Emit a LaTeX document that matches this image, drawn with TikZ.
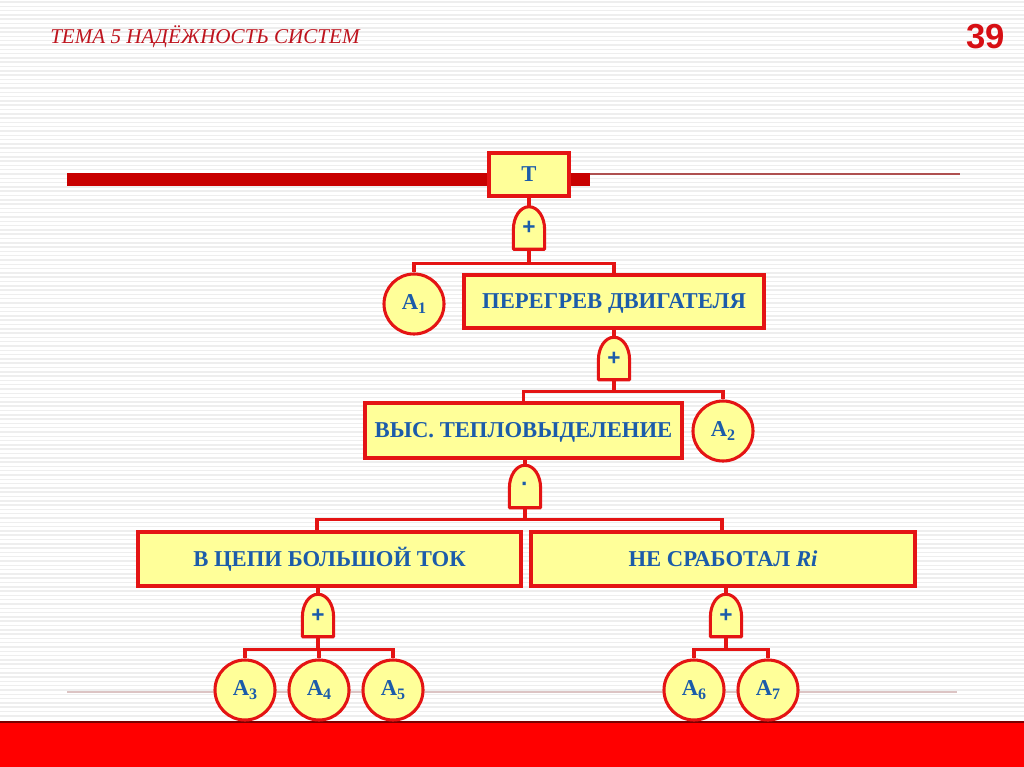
\documentclass[tikz,border=0pt]{standalone}
\usepackage{fontspec}
\setmainfont{Liberation Serif}
\newfontfamily\sansf{Liberation Sans}
\usetikzlibrary{calc}
\definecolor{yel}{RGB}{255,255,153}
\definecolor{bred}{RGB}{228,20,20}
\definecolor{tblue}{RGB}{28,92,170}
\definecolor{titred}{RGB}{190,20,30}
\definecolor{numred}{RGB}{215,15,20}
\definecolor{barred}{RGB}{200,0,0}
\definecolor{stripe}{RGB}{238,238,238}
\definecolor{thinred}{RGB}{175,80,80}
\definecolor{pinkgray}{RGB}{220,196,196}
\definecolor{bandred}{RGB}{255,0,0}
\definecolor{banddark}{RGB}{120,0,0}
\pgfdeclarelayer{bg}\pgfdeclarelayer{gl}\pgfsetlayers{bg,gl,main}
\newcommand\gatedraw[1]{\begin{pgfonlayer}{gl}\draw[gateline] (#1.north) .. controls ++(9,0) and ++(0,-12) .. ($(#1.south east)+(0,-20)$) -- (#1.south east) -- (#1.south west) -- ($(#1.south west)+(0,-20)$) .. controls ++(0,-12) and ++(-9,0) .. (#1.north) -- cycle;\end{pgfonlayer}}
\newcommand\subidx[1]{\raisebox{-3.5pt}{\fontsize{12}{12}\selectfont #1}}
\begin{document}
\begin{tikzpicture}[x=0.75pt,y=-0.75pt,
 box/.style={draw=bred,line width=2.3pt,fill=yel,text=tblue,font=\fontsize{17}{20}\selectfont\bfseries,inner sep=0pt,text depth=0pt,text height=11.2pt},
 ev/.style={circle,draw=bred,line width=2.3pt,fill=yel,text=tblue,font=\fontsize{17}{20}\selectfont\bfseries,minimum size=45pt,inner sep=0pt},
 gate/.style={minimum width=23pt,minimum height=31.5pt,inner sep=0pt,text=tblue,font=\sansf\bfseries\fontsize{17}{17}\selectfont},
 gateline/.style={draw=bred,line width=2.3pt,fill=yel,line join=round},
 conn/.style={draw=bred,line width=2.3pt},
]
\useasboundingbox (0,0) rectangle (1024,767);
\begin{pgfonlayer}{bg}
\fill[white] (0,0) rectangle (1024,767);
\foreach \y in {2,6.3,...,720} \draw[stripe,line width=1.1pt] (0,\y) -- (1024,\y);
\fill[bandred] (0,722) rectangle (1024,767);
\draw[banddark,line width=1pt] (0,722) -- (1024,722);
\fill[barred] (67,173) rectangle (590,186);
\draw[thinred,line width=0.8pt] (590,174) -- (960,174);
\draw[pinkgray,line width=1.5pt] (67,692) -- (957,692);
\end{pgfonlayer}

\node[anchor=west,inner sep=0pt,text=titred,font=\itshape\fontsize{15.8}{18}\selectfont] (title) at (50,37) {ТЕМА 5 НАДЁЖНОСТЬ СИСТЕМ};
\node[text=numred,font=\sansf\bfseries\fontsize{26}{26}\selectfont] (num) at (985.5,37) {39};

\node[box,minimum width=60pt,minimum height=32.25pt] (T) at (529,174.5) {Т};
\node[box,minimum width=225pt,minimum height=39.75pt] (P) at (614,301.5) {ПЕРЕГРЕВ ДВИГАТЕЛЯ};
\node[box,minimum width=237.75pt,minimum height=41.25pt] (V) at (523.5,430.5) {ВЫС. ТЕПЛОВЫДЕЛЕНИЕ};
\node[box,minimum width=287.25pt,minimum height=40.5pt] (C) at (329.5,559) {В ЦЕПИ БОЛЬШОЙ ТОК};
\node[box,minimum width=288pt,minimum height=40.5pt] (N) at (723,559) {НЕ СРАБОТАЛ \textit{Ri}};

\node[ev] (A1) at (414,304) {А\subidx{1}};
\node[ev] (A2) at (723,431) {А\subidx{2}};
\node[ev] (A3) at (245,690) {А\subidx{3}};
\node[ev] (A4) at (319,690) {А\subidx{4}};
\node[ev] (A5) at (393,690) {А\subidx{5}};
\node[ev] (A6) at (694,690) {А\subidx{6}};
\node[ev] (A7) at (768,690) {А\subidx{7}};

\node[gate] (g1) at (529,228) {\raisebox{-3pt}{+}};
\node[gate] (g2) at (614,358.5) {\raisebox{-3pt}{+}};
\node[gate] (g3) at (525,486.5) {\raisebox{-3pt}{·}};
\node[gate] (g4) at (318,615.5) {\raisebox{-3pt}{+}};
\node[gate] (g5) at (726,615.5) {\raisebox{-3pt}{+}};
\gatedraw{g1}\gatedraw{g2}\gatedraw{g3}\gatedraw{g4}\gatedraw{g5}

\begin{pgfonlayer}{gl}
\draw[conn] (T.south) -- (g1.north);
\draw[conn] (g1.south) -- ++(0,14) -| (A1.north);
\draw[conn] (g1.south) -- ++(0,14) -| (P.north);
\draw[conn] (P.south) -- (g2.north);
\draw[conn] (g2.south) -- ++(0,12) -| (V.north);
\draw[conn] (g2.south) -- ++(0,12) -| (A2.north);
\draw[conn] (g3.north) -- (g3.north |- V.south);
\draw[conn] (g3.south) -- ++(0,12) -| ([xshift=-9.4pt]C.north);
\draw[conn] (g3.south) -- ++(0,12) -| ([xshift=-0.75pt]N.north);
\draw[conn] (g4.north) -- (g4.north |- C.south);
\draw[conn] (g4.south) -- ++(0,13) -| (A3.north);
\draw[conn] (g4.south) -- ++(0,13) -| (A4.north);
\draw[conn] (g4.south) -- ++(0,13) -| (A5.north);
\draw[conn] (g5.north) -- (g5.north |- N.south);
\draw[conn] (g5.south) -- ++(0,13) -| (A6.north);
\draw[conn] (g5.south) -- ++(0,13) -| (A7.north);
\end{pgfonlayer}
\end{tikzpicture}
\end{document}
